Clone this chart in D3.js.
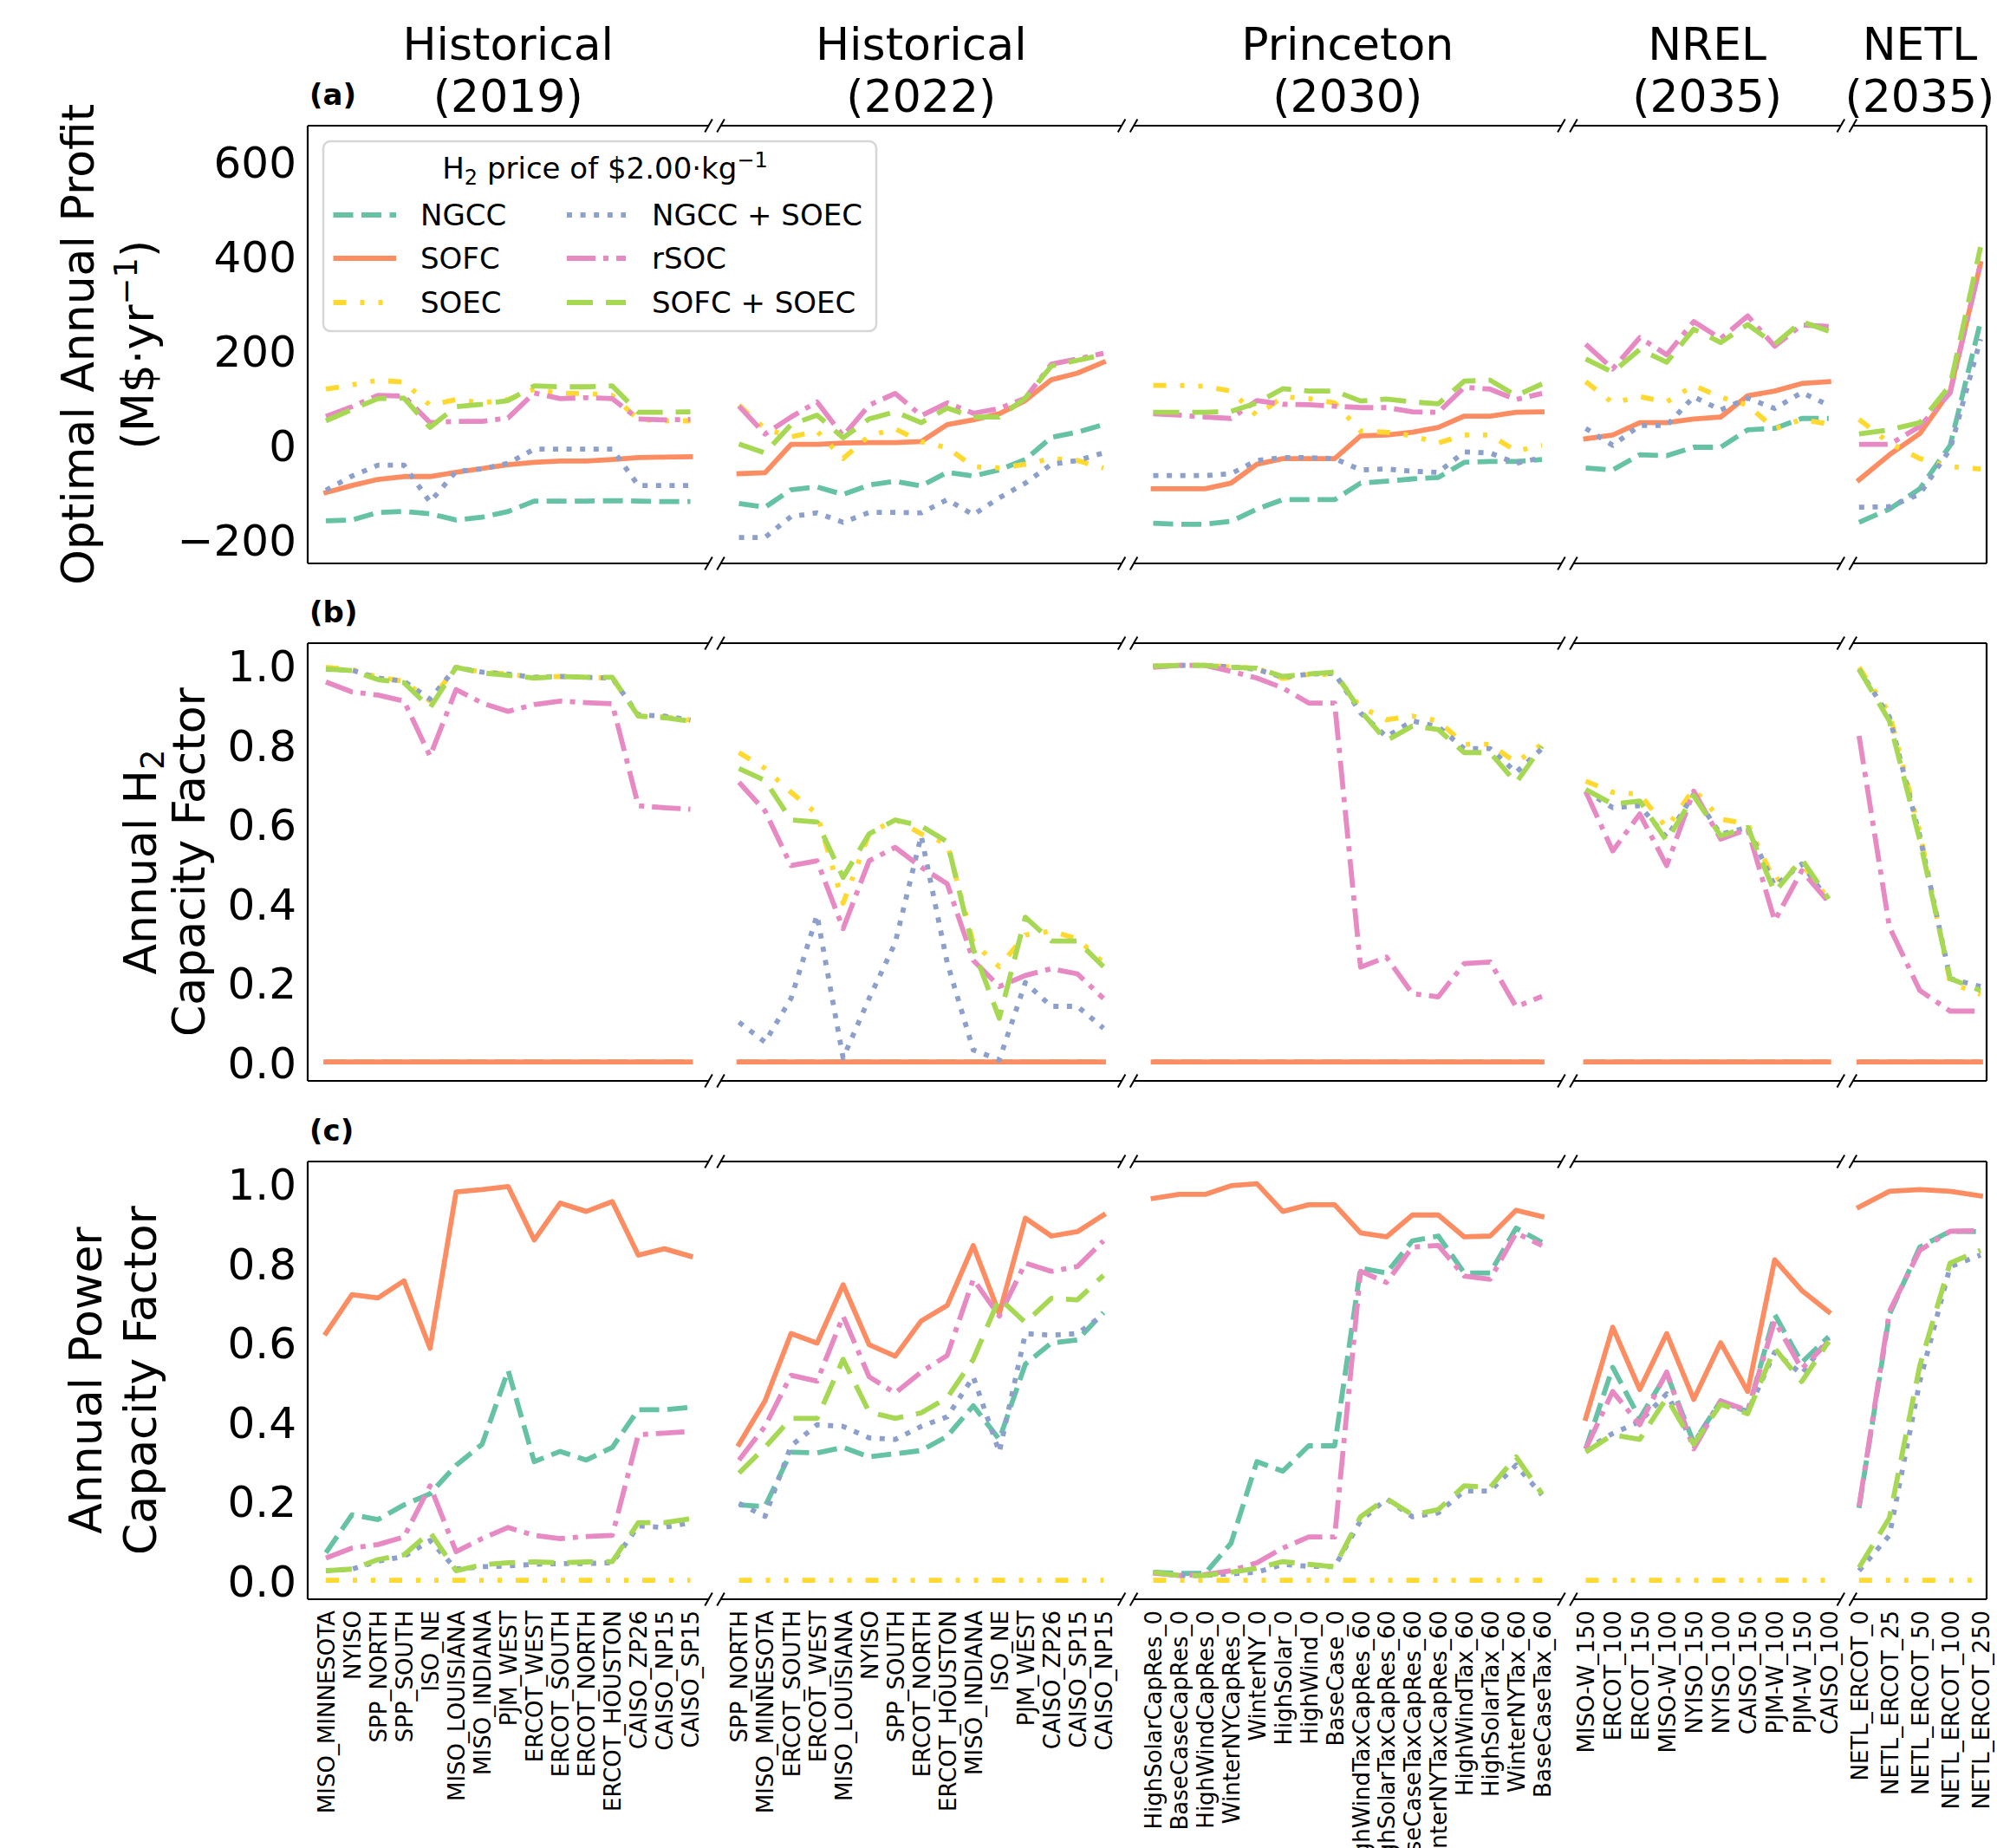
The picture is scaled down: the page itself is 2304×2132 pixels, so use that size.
<!DOCTYPE html>
<html><head><meta charset="utf-8">
<script src="https://cdn.jsdelivr.net/npm/d3@7"></script>
<style>body{margin:0;background:#fff;} text{font-family:"DejaVu Sans",sans-serif;fill:#000;}</style>
</head><body><svg id="chart" width="2304" height="2132"></svg>
<script>
// ---------- categories / titles ----------
const groupTitles = [["Historical","(2019)"],["Historical","(2022)"],["Princeton","(2030)"],["NREL","(2035)"],["NETL","(2035)"]];
const catsHist2019 = ["MISO_MINNESOTA","NYISO","SPP_NORTH","SPP_SOUTH","ISO_NE","MISO_LOUISIANA","MISO_INDIANA","PJM_WEST","ERCOT_WEST","ERCOT_SOUTH","ERCOT_NORTH","ERCOT_HOUSTON","CAISO_ZP26","CAISO_NP15","CAISO_SP15"];
const catsHist2022 = ["SPP_NORTH","MISO_MINNESOTA","ERCOT_SOUTH","ERCOT_WEST","MISO_LOUISIANA","NYISO","SPP_SOUTH","ERCOT_NORTH","ERCOT_HOUSTON","MISO_INDIANA","ISO_NE","PJM_WEST","CAISO_ZP26","CAISO_SP15","CAISO_NP15"];
const catsPrinceton = ["HighSolarCapRes_0","BaseCaseCapRes_0","HighWindCapRes_0","WinterNYCapRes_0","WinterNY_0","HighSolar_0","HighWind_0","BaseCase_0","HighWindTaxCapRes_60","HighSolarTaxCapRes_60","BaseCaseTaxCapRes_60","WinterNYTaxCapRes_60","HighWindTax_60","HighSolarTax_60","WinterNYTax_60","BaseCaseTax_60"];
const catsNREL = ["MISO-W_150","ERCOT_100","ERCOT_150","MISO-W_100","NYISO_150","NYISO_100","CAISO_150","PJM-W_100","PJM-W_150","CAISO_100"];
const catsNETL = ["NETL_ERCOT_0","NETL_ERCOT_25","NETL_ERCOT_50","NETL_ERCOT_100","NETL_ERCOT_250"];

// ---------- series ----------
const seriesNames = ["NGCC","SOFC","SOEC","NGCC + SOEC","rSOC","SOFC + SOEC"];
const seriesColors = ["#66c2a5","#fc8d62","#ffd92f","#8da0cb","#e78ac3","#a6d854"];
const seriesDashes = ["23,9.5",null,"15,16,5,16,5,16","6,9.6","33,9,6,9","30,15"];

// ---------- ticks ----------
const profitTicks = [-200,0,200,400,600];
const cfTicks = [0,0.2,0.4,0.6,0.8,1.0];

// ---------- (a) optimal annual profit, M$/yr (groups: 15,15,16,10,5) ----------
const profitNGCC = [
 -160,-158,-142,-140,-145,-158,-152,-140,-118,-118,-118,-117,-118,-119,-119,
 -123,-131,-94,-88,-104,-84,-76,-86,-57,-65,-52,-30,17,28,44,
 -165,-167,-167,-161,-135,-115,-115,-115,-80,-76,-71,-68,-36,-34,-34,-30,
 -48,-52,-20,-22,-4,-4,33,36,57,57,
 -163,-135,-92,0,262];
const profitSOFC = [
 -100,-85,-72,-66,-66,-57,-49,-41,-36,-33,-33,-30,-26,-25,-24,
 -60,-58,2,2,5,6,6,8,44,54,67,95,139,153,176,
 -92,-92,-92,-80,-40,-28,-28,-28,20,22,28,38,62,62,70,71,
 14,22,48,48,56,60,105,115,131,135,
 -73,-20,25,115,385];
const profitSOEC = [
 119,128,138,134,85,97,90,97,119,110,110,106,55,52,52,
 85,35,18,30,-28,20,35,8,-5,-45,-48,-40,-28,-32,-48,
 127,127,125,115,63,103,99,90,30,28,20,5,22,22,-12,0,
 135,90,103,92,127,102,85,35,55,45,
 55,5,-28,-45,-50];
const profitNGCCSOEC = [
 -95,-65,-42,-42,-120,-55,-50,-38,-8,-8,-8,-8,-85,-85,-85,
 -195,-195,-151,-143,-163,-142,-142,-143,-115,-147,-111,-80,-40,-32,-16,
 -64,-64,-64,-60,-32,-26,-26,-28,-52,-50,-55,-57,-14,-16,-38,-26,
 36,0,42,42,103,75,100,78,112,85,
 -131,-130,-103,-8,225];
const profitRSOC = [
 61,82,106,104,48,51,51,58,111,99,101,99,56,54,55,
 83,24,60,92,20,85,110,63,90,68,78,100,172,183,195,
 67,64,60,57,95,87,86,83,80,80,71,70,123,119,97,110,
 214,162,228,192,262,226,274,210,255,252,
 2,2,40,111,385];
const profitSOFCSOEC = [
 52,76,99,100,38,82,87,95,126,124,124,126,70,70,71,
 3,-16,44,64,16,56,71,48,79,60,60,100,168,180,192,
 70,70,70,72,90,120,115,115,94,98,92,88,136,138,105,130,
 183,155,203,176,246,218,256,214,262,242,
 24,33,48,127,420];

// ---------- (b) annual H2 capacity factor ----------
const h2cfNGCC = [
 0,0,0,0,0,0,0,0,0,0,0,0,0,0,0,
 0,0,0,0,0,0,0,0,0,0,0,0,0,0,0,
 0,0,0,0,0,0,0,0,0,0,0,0,0,0,0,0,
 0,0,0,0,0,0,0,0,0,0,
 0,0,0,0,0];
const h2cfSOFC = [
 0,0,0,0,0,0,0,0,0,0,0,0,0,0,0,
 0,0,0,0,0,0,0,0,0,0,0,0,0,0,0,
 0,0,0,0,0,0,0,0,0,0,0,0,0,0,0,0,
 0,0,0,0,0,0,0,0,0,0,
 0,0,0,0,0];
const h2cfSOEC = [
 0.995,0.99,0.97,0.96,0.91,0.995,0.983,0.978,0.97,0.972,0.97,0.968,0.872,0.87,0.862,
 0.78,0.74,0.68,0.625,0.40,0.575,0.612,0.575,0.55,0.30,0.24,0.32,0.33,0.31,0.25,
 0.998,1.0,1.0,0.996,0.993,0.967,0.977,0.977,0.895,0.863,0.872,0.86,0.801,0.801,0.755,0.801,
 0.708,0.68,0.675,0.59,0.688,0.612,0.60,0.455,0.50,0.41,
 0.995,0.88,0.58,0.20,0.17];
const h2cfNGCCSOEC = [
 0.99,0.988,0.968,0.96,0.915,0.995,0.983,0.978,0.97,0.972,0.97,0.968,0.875,0.872,0.862,
 0.10,0.05,0.16,0.37,0.01,0.16,0.30,0.57,0.25,0.03,0.005,0.20,0.14,0.14,0.085,
 0.998,1.0,1.0,0.996,0.99,0.97,0.978,0.98,0.88,0.82,0.86,0.845,0.79,0.79,0.73,0.79,
 0.683,0.641,0.646,0.566,0.675,0.574,0.591,0.444,0.499,0.407,
 0.99,0.87,0.57,0.21,0.19];
const h2cfRSOC = [
 0.958,0.933,0.925,0.91,0.771,0.939,0.905,0.884,0.901,0.91,0.906,0.903,0.646,0.641,0.637,
 0.705,0.633,0.495,0.507,0.336,0.507,0.541,0.491,0.449,0.256,0.19,0.218,0.235,0.222,0.16,
 0.995,1.0,1.0,0.985,0.968,0.943,0.905,0.905,0.239,0.264,0.172,0.164,0.248,0.252,0.139,0.165,
 0.682,0.532,0.625,0.495,0.683,0.562,0.587,0.356,0.482,0.403,
 0.822,0.34,0.18,0.128,0.128];
const h2cfSOFCSOEC = [
 0.991,0.987,0.964,0.956,0.893,0.995,0.981,0.975,0.968,0.972,0.97,0.97,0.872,0.868,0.859,
 0.74,0.71,0.61,0.605,0.465,0.575,0.61,0.595,0.555,0.285,0.11,0.365,0.305,0.305,0.24,
 0.998,1.0,1.0,0.995,0.993,0.972,0.978,0.983,0.885,0.81,0.847,0.838,0.78,0.78,0.704,0.796,
 0.687,0.65,0.658,0.557,0.671,0.57,0.591,0.428,0.511,0.411,
 0.99,0.86,0.56,0.21,0.18];

// ---------- (c) annual power capacity factor ----------
const powcfNGCC = [
 0.069,0.165,0.153,0.19,0.218,0.29,0.343,0.529,0.299,0.325,0.303,0.335,0.43,0.43,0.436,
 0.19,0.186,0.323,0.321,0.335,0.311,0.319,0.327,0.363,0.44,0.355,0.545,0.598,0.606,0.675,
 0.02,0.017,0.017,0.093,0.299,0.275,0.339,0.339,0.787,0.775,0.856,0.868,0.775,0.775,0.888,0.852,
 0.331,0.537,0.408,0.521,0.347,0.452,0.424,0.67,0.549,0.614,
 0.182,0.67,0.84,0.88,0.879];
const powcfSOFC = [
 0.623,0.72,0.712,0.755,0.585,0.979,0.985,0.993,0.858,0.951,0.93,0.955,0.82,0.836,0.817,
 0.343,0.452,0.622,0.598,0.745,0.594,0.565,0.654,0.693,0.844,0.672,0.913,0.868,0.879,0.921,
 0.963,0.973,0.973,0.995,1.0,0.93,0.947,0.947,0.876,0.866,0.921,0.921,0.866,0.868,0.933,0.917,
 0.408,0.638,0.481,0.622,0.456,0.599,0.476,0.808,0.731,0.677,
 0.941,0.981,0.985,0.981,0.969];
const powcfSOEC = [
 0,0,0,0,0,0,0,0,0,0,0,0,0,0,0,
 0,0,0,0,0,0,0,0,0,0,0,0,0,0,0,
 0,0,0,0,0,0,0,0,0,0,0,0,0,0,0,0,
 0,0,0,0,0,0,0,0,0,0,
 0,0,0,0,0];
const powcfNGCCSOEC = [
 0.024,0.028,0.048,0.06,0.10,0.028,0.034,0.036,0.04,0.042,0.042,0.044,0.137,0.133,0.145,
 0.194,0.161,0.339,0.392,0.388,0.359,0.355,0.388,0.412,0.513,0.323,0.622,0.618,0.622,0.67,
 0.02,0.012,0.012,0.016,0.02,0.04,0.035,0.034,0.15,0.205,0.16,0.17,0.225,0.225,0.29,0.215,
 0.33,0.37,0.40,0.47,0.345,0.452,0.425,0.575,0.52,0.61,
 0.024,0.113,0.501,0.791,0.82];
const powcfRSOC = [
 0.056,0.081,0.09,0.109,0.238,0.072,0.105,0.133,0.113,0.105,0.11,0.113,0.367,0.371,0.375,
 0.303,0.388,0.517,0.502,0.666,0.513,0.472,0.525,0.567,0.759,0.666,0.80,0.779,0.791,0.856,
 0.018,0.012,0.014,0.024,0.044,0.081,0.109,0.109,0.779,0.751,0.84,0.844,0.767,0.759,0.876,0.844,
 0.331,0.476,0.392,0.525,0.331,0.452,0.428,0.654,0.533,0.602,
 0.186,0.678,0.832,0.88,0.882];
const powcfSOFCSOEC = [
 0.024,0.028,0.052,0.064,0.121,0.024,0.039,0.044,0.046,0.044,0.046,0.047,0.145,0.145,0.155,
 0.27,0.335,0.408,0.408,0.557,0.424,0.408,0.422,0.46,0.557,0.711,0.65,0.711,0.707,0.769,
 0.02,0.012,0.012,0.02,0.03,0.047,0.04,0.034,0.16,0.206,0.165,0.178,0.238,0.234,0.311,0.218,
 0.323,0.367,0.355,0.46,0.343,0.444,0.42,0.585,0.501,0.602,
 0.032,0.157,0.541,0.80,0.832];

// ================= drawing =================
const W = 2304, H = 2132;
const svg = d3.select("#chart");
svg.append("rect").attr("width", W).attr("height", H).attr("fill", "#fff");

const plotLeft = 355, plotRight = 2292, gapW = 14;
const groups = [catsHist2019, catsHist2022, catsPrinceton, catsNREL, catsNETL];
const totalN = d3.sum(groups, g => g.length);
const unitW = (plotRight - plotLeft - gapW * (groups.length - 1)) / totalN;
const groupInfo = [];
{
  let cursor = plotLeft, offset = 0;
  groups.forEach((cats, gi) => {
    const n = cats.length, w = n * unitW;
    const x = d3.scaleLinear().domain([-0.05 * (n - 1), 1.05 * (n - 1)]).range([cursor, cursor + w]);
    groupInfo.push({ x, x0: cursor, x1: cursor + w, start: offset, n, cats });
    cursor += w + gapW; offset += n;
  });
}

const panelH = 505;
const panels = [
  { top: 145, domain: [-250, 677], ticks: profitTicks, fmt: d3.format("d"),
    data: [profitNGCC, profitSOFC, profitSOEC, profitNGCCSOEC, profitRSOC, profitSOFCSOEC], letter: "(a)" },
  { top: 742, domain: [-0.048, 1.056], ticks: cfTicks, fmt: d3.format(".1f"),
    data: [h2cfNGCC, h2cfSOFC, h2cfSOEC, h2cfNGCCSOEC, h2cfRSOC, h2cfSOFCSOEC], letter: "(b)" },
  { top: 1340, domain: [-0.048, 1.056], ticks: cfTicks, fmt: d3.format(".1f"),
    data: [powcfNGCC, powcfSOFC, powcfSOEC, powcfNGCCSOEC, powcfRSOC, powcfSOFCSOEC], letter: "(c)" }
];

const lineW = 5.8, spineW = 2.2;

panels.forEach((p, pi) => {
  const y = d3.scaleLinear().domain(p.domain).range([p.top + panelH, p.top]);
  const g = svg.append("g");
  groupInfo.forEach((gi) => {
    const lg = g.append("g");
    p.data.forEach((arr, si) => {
      const vals = arr.slice(gi.start, gi.start + gi.n);
      const line = d3.line().x((d, i) => gi.x(i)).y(d => y(d));
      lg.append("path").attr("d", line(vals))
        .attr("fill", "none").attr("stroke", seriesColors[si])
        .attr("stroke-width", lineW)
        .attr("stroke-linejoin", "round")
        .attr("stroke-linecap", seriesDashes[si] ? "butt" : "square")
        .attr("stroke-dasharray", seriesDashes[si]);
    });
  });
  const top = p.top, bot = p.top + panelH;
  groupInfo.forEach((gi, k) => {
    g.append("line").attr("x1", gi.x0).attr("x2", gi.x1).attr("y1", top).attr("y2", top)
      .attr("stroke", "#000").attr("stroke-width", spineW);
    g.append("line").attr("x1", gi.x0).attr("x2", gi.x1).attr("y1", bot).attr("y2", bot)
      .attr("stroke", "#000").attr("stroke-width", spineW);
    if (k === 0) g.append("line").attr("x1", gi.x0).attr("x2", gi.x0).attr("y1", top).attr("y2", bot)
      .attr("stroke", "#000").attr("stroke-width", spineW);
    if (k === groupInfo.length - 1) g.append("line").attr("x1", gi.x1).attr("x2", gi.x1).attr("y1", top).attr("y2", bot)
      .attr("stroke", "#000").attr("stroke-width", spineW);
    const marks = [];
    if (k > 0) marks.push(gi.x0);
    if (k < groupInfo.length - 1) marks.push(gi.x1);
    marks.forEach(mx => [top, bot].forEach(my => {
      g.append("line").attr("x1", mx - 4.3).attr("y1", my + 7.5).attr("x2", mx + 4.3).attr("y2", my - 7.5)
        .attr("stroke", "#000").attr("stroke-width", 2);
    }));
  });
  const ax = g.append("g").attr("transform", `translate(${plotLeft},0)`)
    .call(d3.axisLeft(y).tickValues(p.ticks).tickSize(0).tickPadding(13).tickFormat(p.fmt));
  ax.select(".domain").remove();
  ax.selectAll("text").attr("font-size", 50).attr("font-family", "DejaVu Sans").attr("dy", "0.36em");
  g.append("text").attr("x", 357).attr("y", top - 24).attr("font-size", 34).attr("font-weight", "bold").text(p.letter);
  if (pi === panels.length - 1) {
    groupInfo.forEach(gi => {
      const xa = g.append("g").attr("transform", `translate(0,${bot})`)
        .call(d3.axisBottom(gi.x).tickValues(d3.range(gi.n)).tickSize(0).tickFormat(i => gi.cats[i]));
      xa.select(".domain").remove();
      xa.selectAll("text").attr("font-size", 26).attr("font-family", "DejaVu Sans")
        .attr("transform", "rotate(-90)").attr("x", -13).attr("y", 0).attr("dy", "0.36em")
        .attr("text-anchor", "end");
    });
  }
});

// group titles
groupInfo.forEach((gi, k) => {
  const cx = (gi.x0 + gi.x1) / 2;
  svg.append("text").attr("x", cx).attr("y", 69).attr("text-anchor", "middle").attr("font-size", 52).text(groupTitles[k][0]);
  svg.append("text").attr("x", cx).attr("y", 129).attr("text-anchor", "middle").attr("font-size", 52).text(groupTitles[k][1]);
});

// y labels
function ylabel(bx, cy, build) {
  const t = svg.append("text").attr("transform", `translate(${bx},${cy}) rotate(-90)`)
    .attr("text-anchor", "middle").attr("font-size", 52);
  build(t);
}
const cA = 145 + panelH / 2, cB = 742 + panelH / 2, cC = 1340 + panelH / 2;
ylabel(108, cA, t => t.text("Optimal Annual Profit"));
ylabel(177, cA, t => {
  t.append("tspan").text("(M$·yr");
  t.append("tspan").attr("dy", -19).attr("font-size", 37).text("−1");
  t.append("tspan").attr("dy", 19).text(")");
});
ylabel(180, cB, t => {
  t.append("tspan").text("Annual H");
  t.append("tspan").attr("dy", 9).attr("font-size", 37).text("2");
  t.append("tspan").attr("dy", -9).text("");
});
ylabel(236, cB, t => t.text("Capacity Factor"));
ylabel(117, cC, t => t.text("Annual Power"));
ylabel(180, cC, t => t.text("Capacity Factor"));

// legend
const lg = svg.append("g");
lg.append("rect").attr("x", 373).attr("y", 163).attr("width", 638).attr("height", 219)
  .attr("rx", 8).attr("fill", "#fff").attr("fill-opacity", 0.9).attr("stroke", "#d6d6d6").attr("stroke-width", 2.5);
{
  const t = lg.append("text").attr("x", 698).attr("y", 206).attr("text-anchor", "middle").attr("font-size", 34);
  t.append("tspan").text("H");
  t.append("tspan").attr("dy", 7).attr("font-size", 24).text("2");
  t.append("tspan").attr("dy", -7).text(" price of $2.00·kg");
  t.append("tspan").attr("dy", -13).attr("font-size", 24).text("−1");
}
const legRowsY = [248, 298, 349];
const legCols = [{ h0: 384.5, h1: 457, tx: 485 }, { h0: 654, h1: 722, tx: 752 }];
seriesNames.forEach((name, si) => {
  const col = legCols[Math.floor(si / 3)], ry = legRowsY[si % 3];
  lg.append("line").attr("x1", col.h0).attr("x2", col.h1).attr("y1", ry).attr("y2", ry)
    .attr("stroke", seriesColors[si]).attr("stroke-width", lineW)
    .attr("stroke-dasharray", seriesDashes[si]);
  lg.append("text").attr("x", col.tx).attr("y", ry + 12).attr("font-size", 34).text(name);
});
</script>
</body></html>
